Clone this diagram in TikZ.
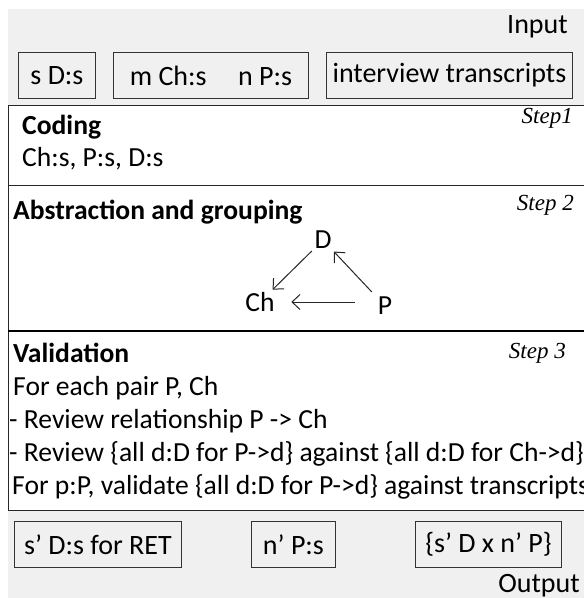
\documentclass[tikz,border=0pt]{standalone}
\usepackage{fontspec}
\setmainfont{Carlito}
\newfontfamily\stepfont{Liberation Serif}
\usetikzlibrary{positioning,arrows.meta}
\definecolor{bggrey}{RGB}{240,240,240}
\begin{document}
\begin{tikzpicture}[x=1pt,y=-1pt,
	box/.style={draw=black!80, line width=0.9pt, inner sep=0pt, minimum height=46pt, anchor=north west, font=\fontsize{28}{30}\selectfont},
	txt/.style={anchor=base west, inner sep=0pt, font=\fontsize{27.6}{30}\selectfont},
	head/.style={txt, font=\fontsize{27.6}{30}\selectfont\bfseries},
	steplabel/.style={anchor=base east, inner sep=0pt, font=\fontsize{23}{25}\selectfont\stepfont\itshape},
	var/.style={inner sep=2.5pt, font=\fontsize{27.6}{30}\selectfont},
	rel/.style={draw=black!85, line width=1pt, -{Straight Barb[length=8pt,width=15pt]}},
	panel/.style={draw=black!85, line width=1pt, fill=white}
	]
	\useasboundingbox (0,0) rectangle (584,598);
	\clip (0,0) rectangle (584,598);
	\fill[bggrey] (8,9) rectangle (584,598);
	\node[txt, anchor=base east, font=\fontsize{28}{30}\selectfont] (input) at (568,33) {Input};
	\node[box, minimum width=77pt] (sds) at (18,52) {s D:s};
	\node[box, minimum width=195pt] (mch) at (113,52) {m Ch:s\hspace{0.9em} n P:s};
	\node[box, minimum width=246pt] (interv) at (326,52) {interview transcripts};
	\draw[panel] (8,105) rectangle (592,185);
	\draw[panel] (8,185) rectangle (592,331);
	\draw[panel] (8,331) rectangle (592,510);
	\draw[line width=1.8pt] (8,331) -- (592,331);
	\node[head] (coding) at (22,134) {Coding};
	\node[txt] (codes) at (22,166) {Ch:s, P:s, D:s};
	\node[steplabel] (step1) at (573,123) {Step1};
	\node[head] (abstr) at (13,219) {Abstraction and grouping};
	\node[steplabel] (step2) at (574,210) {Step 2};
	\node[var] (D) at (323,240) {D};
	\node[var] (Ch) at (260,302) {Ch};
	\node[var] (P) at (385,306) {P};
	\draw[rel] (D) -- (Ch);
	\draw[rel, shorten <=5pt] (P) -- (D);
	\draw[rel, shorten <=20pt, shorten >=14pt] (P.west |- Ch) -- (Ch);
	\node[head] (valid) at (13,362) {Validation};
	\node[steplabel] (step3) at (566,358) {Step 3};
	\node[txt] (pair) at (13,395) {For each pair P, Ch};
	\node[txt] (rel) at (9,428) {- Review relationship P -> Ch};
	\node[txt] (against) at (9,461) {- Review \{all d:D for P->d\} against \{all d:D for Ch->d\}};
	\node[txt] (trans) at (12,494) {For p:P, validate \{all d:D for P->d\} against transcripts};
	\node[box, minimum width=167pt] (sdret) at (14,521) {s’ D:s for RET};
	\node[box, minimum width=84pt] (nps) at (251,521) {n’ P:s};
	\node[box, minimum width=146pt] (sxn) at (415,521) {\{s’ D x n’ P\}};
	\node[txt, anchor=base east, font=\fontsize{28}{30}\selectfont] (output) at (580,592) {Output};
\end{tikzpicture}
\end{document}
